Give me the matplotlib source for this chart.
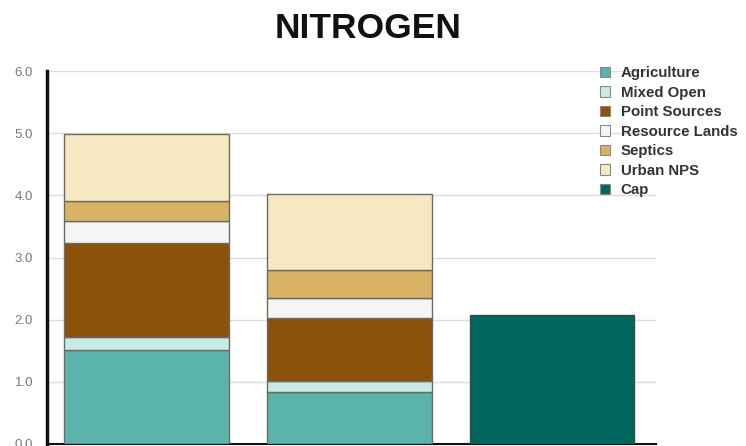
import matplotlib.pyplot as plt
from matplotlib.patches import Patch
import numpy as np

plt.rcParams['font.family'] = ['Liberation Sans', 'DejaVu Sans']

categories = ["Loads A", "Loads B", "Cap"]
sources = ["Agriculture", "Mixed Open", "Point Sources",
           "Resource Lands", "Septics", "Urban NPS"]
agriculture = [1.51, 0.83, 0.0]
mixed_open = [0.21, 0.19, 0.0]
point_sources = [1.52, 1.00, 0.0]
resource_lands = [0.35, 0.33, 0.0]
septics = [0.32, 0.45, 0.0]
urban_nps = [1.08, 1.23, 0.0]
cap = [0.0, 0.0, 2.07]

colors = ["#5ab4ac", "#c7eae5", "#8c510a", "#f5f5f5", "#d8b365", "#f6e8c3"]
cap_color = "#01665e"

fig = plt.figure(figsize=(7.46, 4.46), dpi=100)
ax = fig.add_axes([0.063, 0.0045, 0.816, 0.836])

x = np.arange(len(categories))
width = 0.81
bottom = np.zeros(len(categories))
series = [agriculture, mixed_open, point_sources, resource_lands, septics, urban_nps]
for vals, col in zip(series, colors):
    vals = np.array(vals)
    ax.bar(x, vals, width, bottom=bottom, color=col, edgecolor="#6b6b60",
           linewidth=1.0, zorder=3)
    bottom += vals
ax.bar(x, cap, width, color=cap_color, edgecolor="#3a4a48", linewidth=1.0, zorder=3)

ax.set_xlim(-0.49, 2.51)
ax.set_ylim(0, 6.0)
ax.set_yticks(np.arange(0, 6.01, 1.0))
ax.set_yticklabels([f"{v:.1f}" for v in np.arange(0, 6.01, 1.0)])
ax.tick_params(axis="y", length=0, pad=10, labelsize=9.5, labelcolor="#777777")
ax.set_xticks([])
ax.grid(axis="y", color="#dddddd", linewidth=1.0, zorder=0)

for s in ["top", "right"]:
    ax.spines[s].set_visible(False)
ax.spines["left"].set_linewidth(2.5)
ax.spines["left"].set_color("#111111")
ax.spines["bottom"].set_linewidth(1.5)
ax.spines["bottom"].set_color("#111111")

fig.text(0.493, 0.935, "NITROGEN", ha="center", va="center",
         fontsize=25.5, fontweight="bold", color="#111111")

handles = [Patch(facecolor=c, edgecolor="#888888", linewidth=0.8) for c in colors]
handles.append(Patch(facecolor=cap_color, edgecolor="#888888", linewidth=0.8))
labels = sources + ["Cap"]
leg = fig.legend(handles, labels, loc="upper left", bbox_to_anchor=(0.794, 0.868),
                 frameon=False, fontsize=10.8, handlelength=0.7, handleheight=0.7,
                 handletextpad=0.7, labelspacing=0.365, borderpad=0)
for t in leg.get_texts():
    t.set_color("#333333")
    t.set_fontweight("bold")

fig.savefig("out.png", dpi=100)
